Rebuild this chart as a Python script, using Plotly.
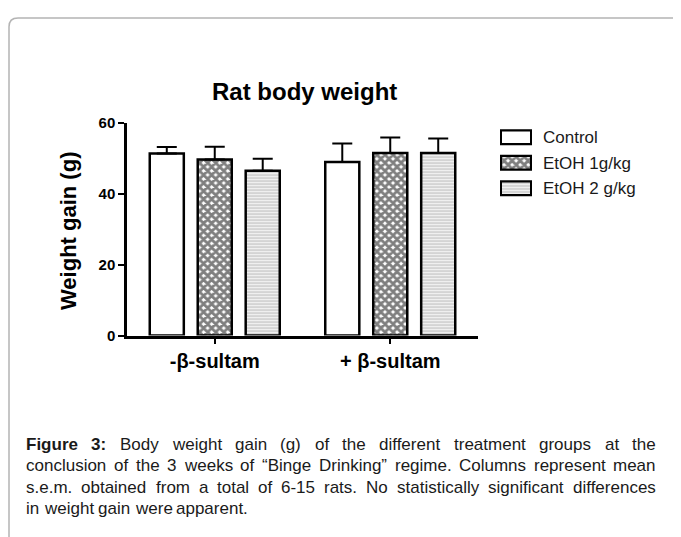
import plotly.graph_objects as go

W, H = 681, 537
OFF_X, OFF_Y = 8, 10  # page body margin of the browser

# ---------------- data ----------------
groups = ["-β-sultam", "+ β-sultam"]
series = ["Control", "EtOH 1g/kg", "EtOH 2 g/kg"]
control_mean = [51.3, 48.9]
control_sem = [1.8, 5.2]
etoh1_mean = [49.6, 51.4]
etoh1_sem = [3.6, 4.4]
etoh2_mean = [46.4, 51.4]
etoh2_sem = [3.4, 4.1]
y_ticks = [0, 20, 40, 60]

chart_title = "Rat body weight"
y_title = "Weight gain (g)"
caption_lines = [
    "Figure 3: Body weight gain (g) of the different treatment groups at the",
    "conclusion of the 3 weeks of \u201cBinge Drinking\u201d regime. Columns represent mean",
    "s.e.m. obtained from a total of 6-15 rats. No statistically significant differences",
    "in weight gain were apparent.",
]

FONT = "Liberation Sans, Arial, sans-serif"


def px(x):
    return (x - OFF_X) / W


def py(y):
    return 1 - (y - OFF_Y) / H


# styles per series
styles = [
    dict(shape="", fg="black", size=8, sol=0.5),
    dict(shape="x", fg="black", size=5.7, sol=0.75),
    dict(shape="-", fg="#7c7c7c", size=3, sol=0.5),
]

fig = go.Figure()
for name, mean, sem, st in zip(series,
                               [control_mean, etoh1_mean, etoh2_mean],
                               [control_sem, etoh1_sem, etoh2_sem],
                               styles):
    fig.add_trace(go.Bar(
        x=groups, y=mean, name=name, showlegend=False,
        marker=dict(color="white", line=dict(color="black", width=2.5),
                    pattern=dict(shape=st["shape"], fgcolor=st["fg"], bgcolor="white",
                                 size=st["size"], solidity=st["sol"], fillmode="overlay")),
        error_y=dict(type="data", array=sem, arrayminus=[0] * len(sem), symmetric=False,
                     color="black", thickness=2, width=10),
        xaxis="x", yaxis="y",
    ))

# legend swatches drawn as bars on a small helper axis
fig.add_trace(go.Bar(
    x=[1, 1, 1], y=series, orientation="h", width=0.54, showlegend=False,
    marker=dict(color="white", line=dict(color="black", width=2.2),
                pattern=dict(shape=[s["shape"] for s in styles],
                             fgcolor=[s["fg"] for s in styles],
                             bgcolor="white",
                             size=[s["size"] for s in styles],
                             solidity=[s["sol"] for s in styles],
                             fillmode="overlay")),
    xaxis="x2", yaxis="y2",
))

annotations = []
annotations.append(dict(text="<b>" + chart_title + "</b>", x=px(304), y=py(87),
                        xref="paper", yref="paper", showarrow=False,
                        xanchor="center", yanchor="middle",
                        font=dict(family=FONT, size=24, color="black")))
annotations.append(dict(text="<b>" + y_title + "</b>", x=px(68), y=py(231),
                        xref="paper", yref="paper", showarrow=False, textangle=-90,
                        xanchor="center", yanchor="middle",
                        font=dict(family=FONT, size=22, color="black")))

# ---- justified caption (Arial metrics) ----
REG = {}
for c, w in zip("abcdefghijklmnopqrstuvwxyz",
                [556, 556, 500, 556, 556, 278, 556, 556, 222, 222, 500, 222, 833, 556, 556,
                 556, 556, 333, 500, 278, 556, 500, 722, 500, 500, 500]):
    REG[c] = w
for c, w in zip("ABCDEFGHIJKLMNOPQRSTUVWXYZ",
                [667, 667, 722, 722, 667, 611, 778, 722, 278, 500, 667, 556, 833, 722, 778,
                 667, 778, 722, 667, 611, 722, 667, 944, 667, 667, 611]):
    REG[c] = w
for c in "0123456789":
    REG[c] = 556
REG.update({" ": 278, ".": 278, ":": 278, "-": 333, "(": 333, ")": 333,
            "\u201c": 333, "\u201d": 333, "/": 278, ",": 278})
BOLD = dict(REG)
BOLD.update({"F": 611, "i": 278, "g": 611, "u": 611, "r": 389, "e": 556, "3": 556, ":": 333})

CAP_SIZE = 17
CAP_LEFT, CAP_RIGHT = 24, 654
cap_y = [451, 473, 496, 518]


def width(word, bold):
    t = BOLD if bold else REG
    return sum(t.get(ch, 556) for ch in word) * CAP_SIZE / 1000


for li, line in enumerate(caption_lines):
    words = line.split(" ")
    bolds = [li == 0 and i < 2 for i in range(len(words))]
    widths = [width(w_, b) for w_, b in zip(words, bolds)]
    natural_gap = 278 * CAP_SIZE / 1000
    if li < len(caption_lines) - 1:
        gap = (CAP_RIGHT - CAP_LEFT - sum(widths)) / (len(words) - 1)
        gap = max(gap, natural_gap * 0.6)
    else:
        gap = natural_gap
    x = CAP_LEFT
    for w_, b, ww in zip(words, bolds, widths):
        annotations.append(dict(text=("<b>" + w_ + "</b>") if b else w_,
                                x=px(x), y=py(cap_y[li]), xref="paper", yref="paper",
                                showarrow=False, xanchor="left", yanchor="middle",
                                font=dict(family=FONT, size=CAP_SIZE, color="#1a1a1a")))
        x += ww + gap

# frame around the figure
bx, by, r = 9, 11, 9
frame = (f"M {px(bx)},{py(H + 20)} L {px(bx)},{py(by + r)} "
         f"Q {px(bx)},{py(by)} {px(bx + r)},{py(by)} L {px(W + 20)},{py(by)}")

fig.update_layout(
    width=W, height=H,
    margin=dict(l=0, r=0, t=0, b=0),
    paper_bgcolor="white", plot_bgcolor="white",
    barmode="group", bargap=0.18, bargroupgap=0.29,
    font=dict(family=FONT, color="black"),
    xaxis=dict(domain=[px(127), px(478)], type="category", anchor="y",
               showline=True, linecolor="black", linewidth=2.5,
               ticks="outside", ticklen=6, tickwidth=2, tickcolor="black",
               tickfont=dict(family=FONT, size=20, color="black", weight="bold"),
               showgrid=False, zeroline=False),
    yaxis=dict(domain=[py(339), py(119)], range=[0, 60], tickvals=y_ticks, anchor="x",
               showline=True, linecolor="black", linewidth=2.5,
               ticks="outside", ticklen=6, tickwidth=2, tickcolor="black",
               tickfont=dict(family=FONT, size=15, color="black", weight="bold"),
               showgrid=False, zeroline=False),
    xaxis2=dict(domain=[px(500), px(532)], range=[-0.03, 1.03], anchor="y2",
                visible=False, fixedrange=True),
    yaxis2=dict(domain=[py(200), py(121)], anchor="x2", type="category",
                autorange="reversed", side="right", showline=False, showgrid=False,
                zeroline=False, ticks="", ticklabelstandoff=10,
                tickfont=dict(family=FONT, size=17, color="#1a1a1a")),
    annotations=annotations,
    shapes=[dict(type="path", path=frame, xref="paper", yref="paper",
                 line=dict(color="#b4b4b4", width=1.5))],
    showlegend=False,
)

fig.write_html("out.html")
